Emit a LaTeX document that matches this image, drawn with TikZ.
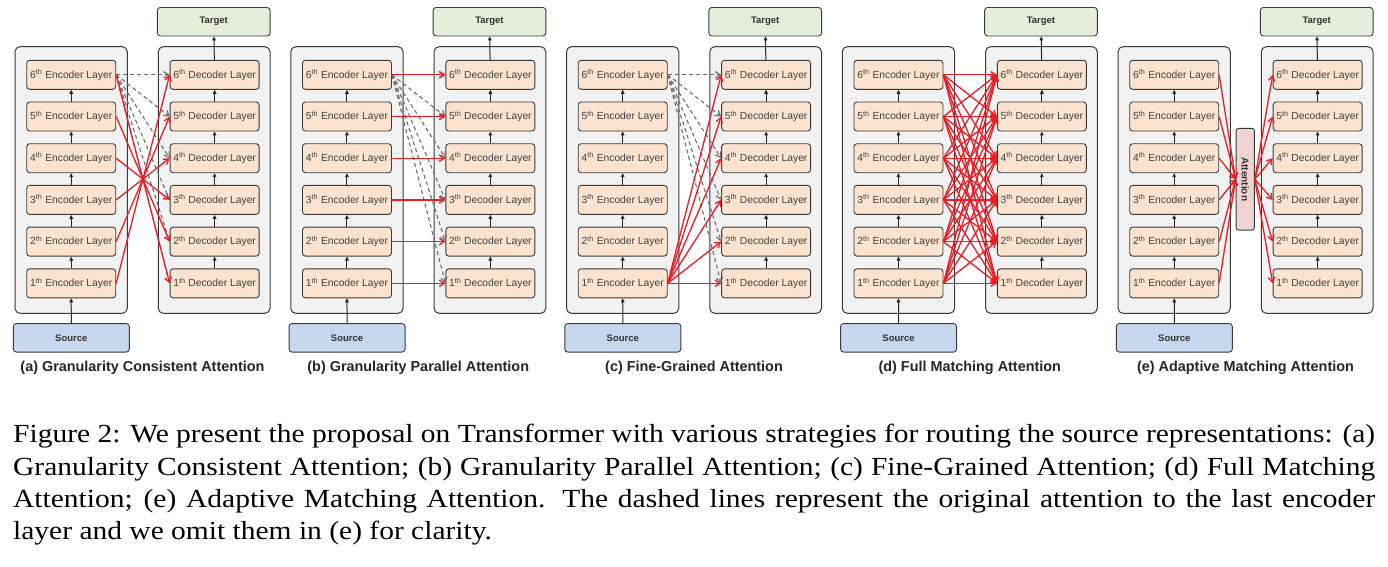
\documentclass[tikz,border=0pt]{standalone}
\usepackage{fontspec}
\setmainfont{Liberation Serif}
\setsansfont{Liberation Sans}
\newfontfamily\capfont[FakeStretch=1.13]{Liberation Serif}
\usetikzlibrary{arrows.meta}
\definecolor{layerfill}{HTML}{FBE3CF}
\definecolor{stackfill}{HTML}{F2F2F2}
\definecolor{targetfill}{HTML}{E4EEDA}
\definecolor{sourcefill}{HTML}{C6D7EE}
\definecolor{attnfill}{HTML}{F0D3D3}
\definecolor{routered}{HTML}{EE1C25}
\definecolor{origgray}{HTML}{6E6E6E}
\definecolor{edgegray}{HTML}{3A3A3A}
\tikzset{
  stack/.style={draw=edgegray, fill=stackfill, rounded corners=5pt, line width=1pt},
  layer/.style={draw=edgegray, fill=layerfill, rounded corners=3pt, line width=0.9pt, minimum width=89pt, minimum height=29pt, inner sep=0pt, text=black!75, font=\sffamily\fontsize{10.3}{12}\selectfont},
  io/.style={draw=edgegray, rounded corners=3pt, line width=0.9pt, minimum height=28.5pt, inner sep=0pt, text=black!80, font=\sffamily\bfseries\fontsize{9.5}{11}\selectfont},
  attn/.style={draw=edgegray, fill=attnfill, rounded corners=2.5pt, line width=0.9pt, minimum width=18.3pt, minimum height=101.7pt, inner sep=0pt, text=black!80, font=\sffamily\bfseries\fontsize{10}{12}\selectfont},
  up/.style={-{Triangle[length=4pt,width=3.6pt]}, line width=1pt, black!85},
  route/.style={-{Straight Barb[length=5pt,width=6.5pt]}, line width=1.3pt, routered},
  orig/.style={-{Straight Barb[length=5pt,width=6.5pt]}, dash pattern=on 4pt off 3pt, line width=1.1pt, origgray},
  subcap/.style={font=\sffamily\bfseries\fontsize{14.4}{16}\selectfont, text=black!85}
}

\begin{document}
\begin{tikzpicture}[x=1pt, y=-1pt]
\fill[white] (0,0) rectangle (1388,566);
\useasboundingbox (0,0) rectangle (1388,566);
\foreach \p/\ox/\name in {a/0/{(a) Granularity Consistent Attention}, b/275.75/{(b) Granularity Parallel Attention}, c/551.5/{(c) Fine-Grained Attention}, d/827.25/{(d) Full Matching Attention}, e/1103/{(e) Adaptive Matching Attention}}{
\begin{scope}[xshift=\ox pt]
\draw[stack] (15,46.7) rectangle (127.3,313.3);
\draw[stack] (158.3,46.7) rectangle (270,313.3);
\foreach \i in {1,...,6}{
  \node[layer] (\p-e\i) at (71.2,{283.3-(\i-1)*41.7}) {\i\textsuperscript{th} Encoder Layer};
  \node[layer] (\p-d\i) at (214.6,{283.3-(\i-1)*41.7}) {\i\textsuperscript{th} Decoder Layer};
}
\node[io, fill=targetfill, minimum width=112.7pt] (\p-tgt) at (213.7,21.7) {Target};
\node[io, fill=sourcefill, minimum width=116pt] (\p-src) at (71.3,337.8) {Source};
\node[subcap] (\p-cap) at (142.5,367.5) {\name};
\draw[up] (\p-src) -- (\p-e1);
\foreach \i/\j in {1/2,2/3,3/4,4/5,5/6}{
  \draw[up] (\p-e\i) -- (\p-e\j);
  \draw[up] (\p-d\i) -- (\p-d\j);
}
\draw[up] (\p-d6) -- (\p-tgt);
\end{scope}
}
\node[attn] (e-att) at (1245.2,179.2) {\rotatebox{-90}{Attention}};
\foreach \p in {a,b,c}
  \foreach \i in {1,...,6}
    \draw[orig] (\p-e6.east) -- (\p-d\i.west);
\foreach \i in {1,...,6}{
  \pgfmathtruncatemacro\j{7-\i}
  \draw[route] (a-e\i.east) -- (a-d\j.west);
  \draw[route] (b-e\i.east) -- (b-d\i.west);
  \draw[route] (c-e1.east) -- (c-d\i.west);
  \foreach \k in {1,...,6}
    \draw[route] (d-e\i.east) -- (d-d\k.west);
  \draw[route] (e-e\i.east) -- (e-att.west);
  \draw[route] (e-att.east) -- (e-d\i.west);
}
\node[anchor=north west, text width=1362pt, align=justify, inner sep=0pt, font=\capfont\fontsize{26.1}{32.3}\selectfont] (caption) at (13,424.2) {\hyphenpenalty=10000\exhyphenpenalty=10000
Figure 2: We present the proposal on Transformer with various strategies for routing the source representations: (a)\linebreak
Granularity Consistent Attention; (b) Granularity Parallel Attention; (c) Fine-Grained Attention; (d) Full Matching\linebreak
Attention; (e) Adaptive Matching Attention. The dashed lines represent the original attention to the last encoder\linebreak
layer and we omit them in (e) for clarity.};
\end{tikzpicture}
\end{document}
